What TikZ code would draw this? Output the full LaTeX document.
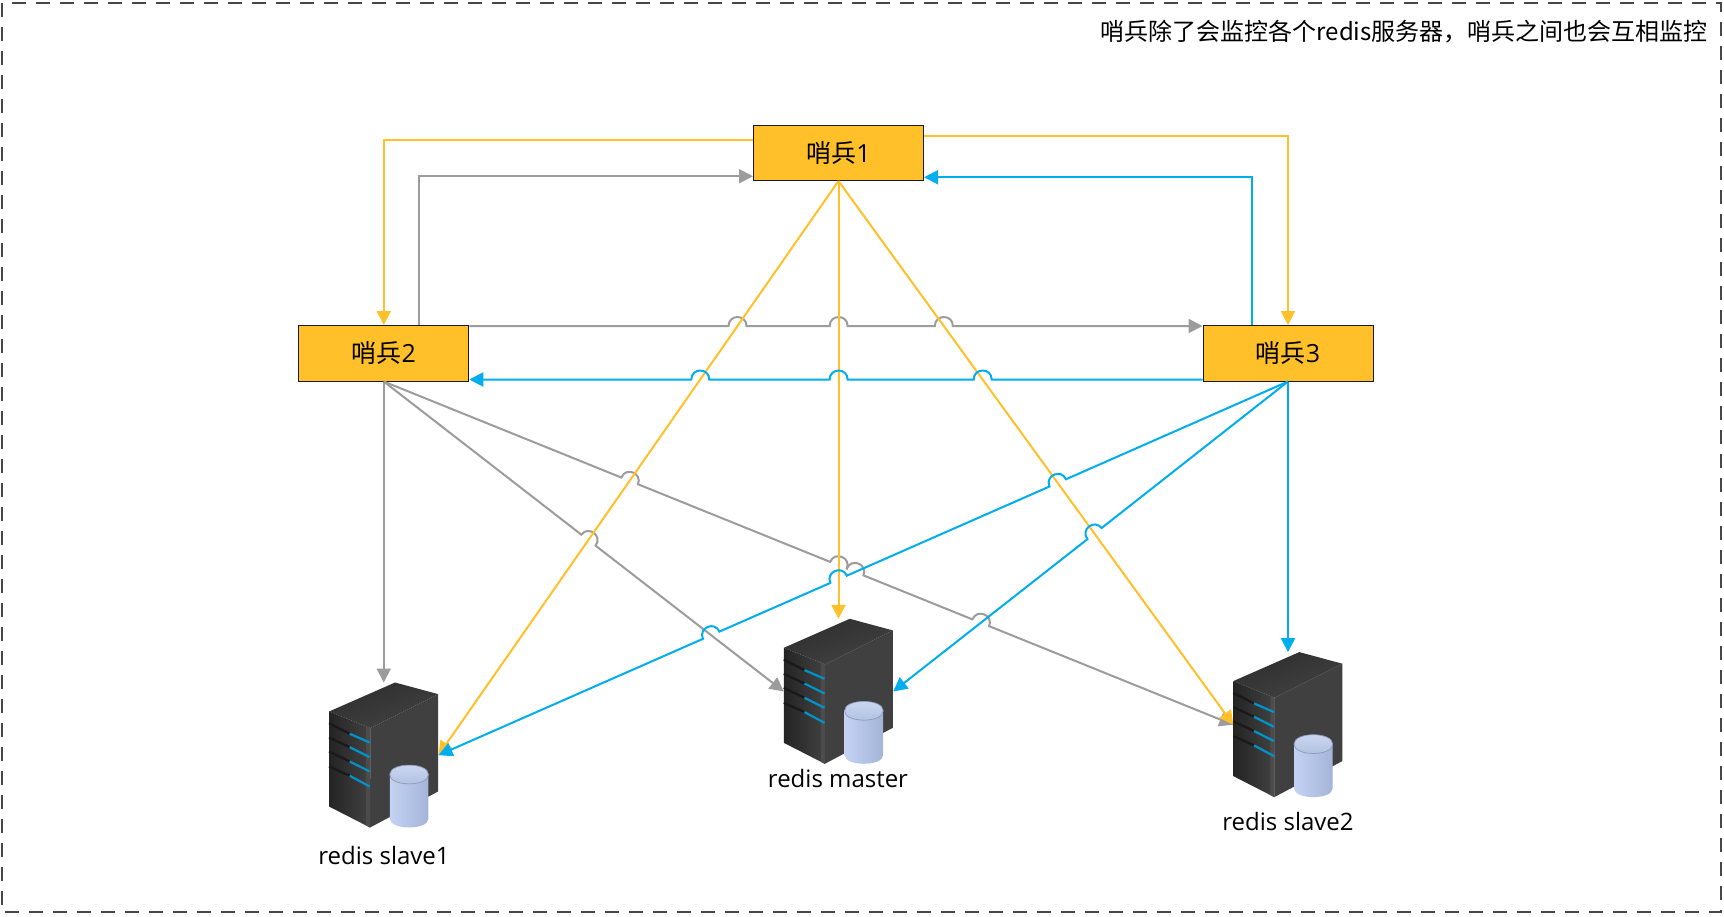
\documentclass[tikz,border=0pt]{standalone}
\usepackage{fontspec}
\setmainfont{Open Sans}
\newfontfamily\cjk{Noto Sans CJK SC}
\usetikzlibrary{arrows.meta,calc,shadings}
\definecolor{ylw}{HTML}{FFC02A}
\definecolor{blu}{HTML}{00AEEF}
\definecolor{gry}{HTML}{9C9C9C}
\definecolor{cylL}{HTML}{C4D3F3}
\definecolor{cylM}{HTML}{DCE6FB}
\definecolor{cylR}{HTML}{A3B4D8}
\definecolor{cylT}{HTML}{CFDAF3}
\definecolor{cylB}{HTML}{AEBEE0}
\definecolor{cylE}{HTML}{8E9AB8}
\newcommand{\hop}[3]{-- ($(#1)!9pt!(#2)$) .. controls ($(#1)!9pt!(#2)!12pt!90:(#3)$) and ($(#1)!9pt!(#3)!12pt!-90:(#2)$) .. ($(#1)!9pt!(#3)$)}
\newcommand{\boxlabel}[1]{\raisebox{-2pt}{{\cjk 哨兵}#1}}
\tikzset{
  sentinel/.style={draw=black!90,line width=1pt,fill=ylw,minimum width=170pt,minimum height=55.5pt,inner sep=0pt,font=\fontsize{25}{29}\selectfont},
  srv/.style={minimum width=109pt,minimum height=145pt,inner sep=0pt},
  lbl/.style={inner sep=0pt,font=\fontsize{24}{28}\selectfont},
  link/.style={line width=2pt,-{Triangle[length=14pt,width=14pt]}},
  rlink/.style={line width=2pt,{Triangle[length=14pt,width=14pt]}-},
  ylink/.style={link,draw=ylw},
  glink/.style={link,draw=gry},
  blink/.style={link,draw=blu},
  rglink/.style={rlink,draw=gry},
  rblink/.style={rlink,draw=blu},
  slotd/.style={draw=black!90,line width=2.2pt},
  slotb/.style={draw=blu!85!black,line width=2.2pt},
  serverpic/.pic={
    \path[top color=black!82,bottom color=black!74,shading angle=20] (0,29) -- (66,0) -- (109,11.6) -- (41.4,45.6) -- cycle;
    \fill[black!75] (41.4,45.6) -- (109,11.6) -- (109,109) -- (41,145) -- cycle;
    \path[left color=black!86,right color=black!74] (0,29) -- (41.4,45.6) -- (41,145) -- (0,124) -- cycle;
    \fill[black!70] (37,43.8) -- (41.4,45.6) -- (41,145) -- (37,143) -- cycle;
    \draw[slotd] (0,40.7) -- (20.7,51.3);
    \draw[slotd] (0,55) -- (20.7,64.7);
    \draw[slotd] (0,69) -- (20.7,79);
    \draw[slotd] (0,84) -- (20.7,93.3);
    \draw[slotb] (20.7,51.3) -- (40.7,60);
    \draw[slotb] (20.7,64.7) -- (40.7,74.7);
    \draw[slotb] (20.7,79) -- (40.7,89);
    \draw[slotb] (20.7,93.3) -- (40.7,104);
    \path[left color=cylL,middle color=cylM,right color=cylR] (60.7,92) -- (60.7,136) .. controls (60.7,148) and (99.4,148) .. (99.4,136) -- (99.4,92) -- cycle;
    \path[top color=cylT,bottom color=cylB,draw=cylE,line width=.7pt] (60.7,92) .. controls (60.7,79.5) and (99.4,79.5) .. (99.4,92) .. controls (99.4,104.5) and (60.7,104.5) .. (60.7,92) -- cycle;
  }
}
\begin{document}
\begin{tikzpicture}[x=1pt,y=-1pt]
\useasboundingbox (0,0) rectangle (1724,916);
\fill[white] (0,0) rectangle (1724,916);
\draw[draw=black!72,line width=1.2pt,dash pattern=on 14pt off 10pt] (2,3) rectangle (1721,912);
\node[lbl,anchor=east,font=\fontsize{24}{28}\selectfont] (title) at (1708,32) {\cjk 哨兵除了会监控各个redis服务器，哨兵之间也会互相监控};

\node[sentinel] (b1) at (838.5,152.75) {\boxlabel{1}};
\node[sentinel] (b2) at (383.75,353.25) {\boxlabel{2}};
\node[sentinel] (b3) at (1288,353.25) {\boxlabel{3}};

\node[srv] (slavea) at (383.75,755.2) {};
\node[srv] (master) at (838.5,691.5) {};
\node[srv] (slaveb) at (1288,724.8) {};

% crossing points
\coordinate (gtl) at ([yshift=-1pt]b2.north east);
\coordinate (gtr) at ([yshift=-1pt]b3.north west);
\coordinate (btl) at ([yshift=2pt]b2.south east);
\coordinate (btr) at ([yshift=2pt]b3.south west);
\coordinate (xa1) at (intersection of gtl--gtr and b1.south--slavea.east);
\coordinate (xa2) at (intersection of gtl--gtr and b1.south--master.north);
\coordinate (xa3) at (intersection of gtl--gtr and b1.south--slaveb.west);
\coordinate (xb1) at (intersection of btl--btr and b1.south--slavea.east);
\coordinate (xb2) at (intersection of btl--btr and b1.south--master.north);
\coordinate (xb3) at (intersection of btl--btr and b1.south--slaveb.west);
\coordinate (xc) at (intersection of b2.south--master.west and b1.south--slavea.east);
\coordinate (xd1) at (intersection of b2.south--slaveb.west and b1.south--slavea.east);
\coordinate (xd2) at (intersection of b2.south--slaveb.west and b1.south--master.north);
\coordinate (xd3) at (intersection of b2.south--slaveb.west and b3.south--slavea.east);
\coordinate (xd4) at (intersection of b2.south--slaveb.west and b3.south--master.east);
\coordinate (xe1) at (intersection of b3.south--slavea.east and b2.south--master.west);
\coordinate (xe2) at (intersection of b3.south--slavea.east and b1.south--master.north);
\coordinate (xe3) at (intersection of b3.south--slavea.east and b1.south--slaveb.west);
\coordinate (xf) at (intersection of b3.south--master.east and b1.south--slaveb.west);

% gray links
\draw[glink] ([xshift=35pt]b2.north) |- ([yshift=-23.5pt]b1.west);
\draw[glink] (gtl) \hop{xa1}{gtl}{gtr} \hop{xa2}{gtl}{gtr} \hop{xa3}{gtl}{gtr} -- (gtr);
\draw[glink] (b2.south) -- (slavea.north);
\draw[glink] (b2.south) \hop{xc}{b2.south}{master.west} -- (master.west);
\draw[glink] (b2.south) \hop{xd1}{b2.south}{slaveb.west} \hop{xd2}{b2.south}{slaveb.west} \hop{xd3}{b2.south}{slaveb.west} \hop{xd4}{b2.south}{slaveb.west} -- (slaveb.west);
% yellow links
\draw[ylink] ([yshift=12.5pt]b1.west) -| (b2.north);
\draw[ylink] ([yshift=16.5pt]b1.east) -| (b3.north);
\draw[ylink] (b1.south) -- (slavea.east);
\draw[ylink] (b1.south) -- (master.north);
\draw[ylink] (b1.south) -- (slaveb.west);
% blue links
\draw[blink] ([xshift=-36.5pt]b3.north) |- ([yshift=-24.5pt]b1.east);
\draw[rblink] (btl) \hop{xb1}{btl}{btr} \hop{xb2}{btl}{btr} \hop{xb3}{btl}{btr} -- (btr);
\draw[blink] (b3.south) -- (slaveb.north);
\draw[rblink] (slavea.east) \hop{xe1}{slavea.east}{b3.south} \hop{xe2}{slavea.east}{b3.south} \hop{xe3}{slavea.east}{b3.south} -- (b3.south);
\draw[rblink] (master.east) \hop{xf}{master.east}{b3.south} -- (b3.south);

\pic at (slavea.north west) {serverpic};
\pic at (master.north west) {serverpic};
\pic at (slaveb.north west) {serverpic};

\node[lbl] (la) at (384,855) {redis slave1};
\node[lbl] (lm) at (838,778) {redis master};
\node[lbl] (lb) at (1288,821.5) {redis slave2};
\end{tikzpicture}
\end{document}
